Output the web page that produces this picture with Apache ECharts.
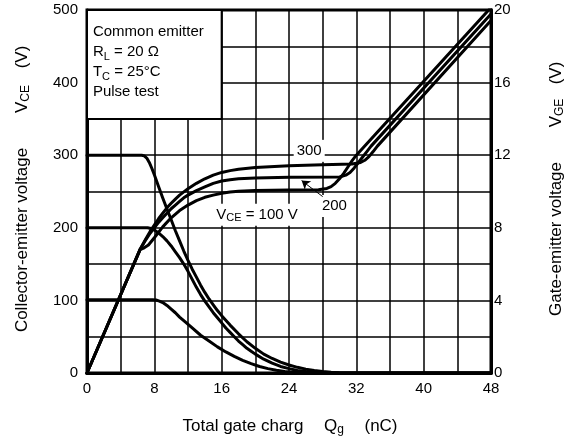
<!DOCTYPE html>
<html><head><meta charset="utf-8">
<script src="https://cdn.jsdelivr.net/npm/echarts@6/dist/echarts.min.js"></script>
<style>html,body{margin:0;padding:0;background:#fff}#c{width:572px;height:441px}</style>
</head><body><div id="c"></div>
<script>
// ---- data ----
const xTicks = [0, 8, 16, 24, 32, 40, 48];
const vceTicks = [0, 100, 200, 300, 400, 500];
const vgeTicks = [0, 4, 8, 12, 16, 20];

// Collector-emitter voltage (left axis, V)
const vce300 = [[0,300],[6.5,300],[6.8,299],[7.1,296],[7.4,290],[7.7,282],[8,273],[8.5,257],[9,241],[9.5,226],[10,211],[10.5,196],[11,182],[11.5,168],[12,155],[12.5,143],[13,132],[13.5,121],[14,111],[14.5,102],[15,94],[15.5,86],[16,79],[17,66],[18,54],[19,43],[20,34],[21,26],[22,20],[23,15],[24,11],[25,7.8],[26,5.3],[27,3.4],[28,2],[29,1],[30,0.4],[31,0.1],[32,0],[48,0]];
const vce200 = [[0,200],[7.2,200],[7.6,199],[8,197],[8.5,193],[9,188],[9.5,182],[10,175],[10.5,167],[11,159],[11.5,150],[12,140],[12.5,129],[13,118],[13.5,108],[14,99],[14.5,91],[15,83],[15.5,76],[16,69],[16.5,62],[17,56],[17.5,50],[18,44],[18.5,39],[19,34],[19.5,30],[20,26],[21,19],[22,13.5],[23,9],[24,6],[25,3.5],[26,2],[27,1],[28,0.3],[29,0],[48,0]];
const vce100 = [[0,101],[7.8,101],[8.2,100.5],[8.6,99],[9,97],[9.5,93],[10,88],[10.5,83],[11,77],[11.6,71],[12.5,62],[13.5,52],[14.5,44],[15.5,36],[16.5,29],[17.5,23],[18.5,17.5],[19.5,13],[20.5,9],[21.5,6],[22.5,3.8],[23.5,2],[24.5,1],[25.5,0.3],[26.5,0],[48,0]];

// Gate-emitter voltage (right axis, V)
const vge300 = [[0,0],[6.3,6.8],[7,7.4],[7.5,7.8],[8,8.15],[8.5,8.5],[9,8.8],[9.5,9.1],[10,9.35],[10.5,9.58],[11,9.8],[11.5,9.98],[12,10.15],[13,10.45],[14,10.7],[15,10.9],[16,11.05],[17,11.15],[18,11.22],[20,11.32],[24,11.42],[28,11.48],[31.5,11.52],[32.5,11.6],[33,11.72],[33.5,11.92],[34,12.2],[34.5,12.5],[48,19.42]];
const vge200 = [[0,0],[6.3,6.8],[7,7.35],[7.5,7.7],[8,8.0],[8.5,8.3],[9,8.55],[9.5,8.8],[10,9.05],[10.5,9.25],[11,9.45],[11.5,9.65],[12,9.8],[13,10.05],[14,10.25],[15,10.45],[16,10.58],[17,10.65],[18,10.7],[20,10.75],[24,10.78],[30,10.8],[30.75,10.9],[31.25,11.05],[31.75,11.3],[32.25,11.6],[32.75,11.9],[33.25,12.2],[33.75,12.5],[48,19.78]];
const vge100 = [[0,0],[6.3,6.8],[6.8,6.9],[7.3,7.05],[8,7.45],[9,8.05],[10,8.55],[11,8.95],[12,9.25],[13,9.5],[14,9.68],[15,9.8],[16,9.9],[17,9.97],[18,10.02],[20,10.06],[24,10.08],[27.5,10.1],[28.5,10.17],[29,10.27],[29.5,10.45],[30,10.7],[30.5,11.0],[31,11.35],[31.5,11.7],[32,12.0],[48,20.14]];

// annotations (data coordinates)
const label300 = [26.4, 306];
const label200 = [29.4, 230];
const label100 = [20.2, 218];
const arrow200 = [[28.0, 243], [25.5, 265]];
const infoBox = [[0, 350], [16, 500]];
const infoPos = [0.7, 428];

const FONT = "'Liberation Sans', Arial, sans-serif";
const chart = echarts.init(document.getElementById('c'), null, {renderer: 'canvas'});

const curve = (data, yi) => ({
  type: 'line', data, yAxisIndex: yi, showSymbol: false, symbol: 'none',
  smooth: false, silent: true,
  lineStyle: {color: '#000', width: 3, join: 'round', cap: 'round'}, z: 3
});
const richM = {fontSize: 15, fontFamily: FONT, color: '#000', lineHeight: 18, textBorderWidth: 0, opacity: 1};
const richS = {fontSize: 11, fontFamily: FONT, color: '#000', lineHeight: 12, verticalAlign: 'bottom', textBorderWidth: 0, opacity: 1};
const lbl = (pos, fmt) => ({
  type: 'scatter', data: [pos], symbolSize: 0, silent: true, z: 2,
  itemStyle: {opacity: 1, color: '#000'},
  label: {show: true, position: 'inside', formatter: fmt, color: '#000', fontFamily: FONT, opacity: 1,
    textBorderWidth: 0, textBorderColor: 'transparent', textShadowBlur: 0,
    backgroundColor: '#fff', padding: [2, 3, 2, 3],
    rich: {m: richM, s: richS}}
});

const split = {show: true, lineStyle: {color: '#000', width: 1.5}};
const T = 17;
const TY = 426;

chart.setOption({
  animation: false,
  backgroundColor: '#fff',
  grid: {left: 87, top: 10, width: 404, height: 363, show: true, borderColor: '#000', borderWidth: 3,
         backgroundColor: 'transparent', containLabel: false, outerBoundsMode: 'none'},
  xAxis: {type: 'value', min: xTicks[0], max: xTicks[xTicks.length - 1], interval: 8,
    axisLine: {show: true, lineStyle: {color: '#000', width: 3}}, axisTick: {show: false},
    axisLabel: {color: '#000', fontSize: 15, fontFamily: FONT, margin: 8,
      formatter: v => xTicks.includes(v) ? String(v) : ''},
    splitLine: split, minorTick: {show: false, splitNumber: 2}, minorSplitLine: split},
  yAxis: [
    {type: 'value', min: vceTicks[0], max: vceTicks[vceTicks.length - 1], interval: 100,
      axisLine: {show: true, lineStyle: {color: '#000', width: 3}}, axisTick: {show: false},
      axisLabel: {color: '#000', fontSize: 15, fontFamily: FONT, margin: 9,
        formatter: v => vceTicks.includes(v) ? String(v) : ''},
      splitLine: split, minorTick: {show: false, splitNumber: 2}, minorSplitLine: split},
    {type: 'value', position: 'right', min: vgeTicks[0], max: vgeTicks[vgeTicks.length - 1], interval: 4,
      axisLine: {show: true, lineStyle: {color: '#000', width: 3}}, axisTick: {show: false},
      axisLabel: {color: '#000', fontSize: 15, fontFamily: FONT, margin: 3,
        formatter: v => vgeTicks.includes(v) ? String(v) : ''},
      splitLine: {show: false}}
  ],
  graphic: [
    {type: 'text', x: 22, y: 240, rotation: Math.PI / 2,
      style: {text: 'Collector-emitter voltage', font: T + 'px ' + FONT, fill: '#000', align: 'center', verticalAlign: 'middle'}},
    {type: 'text', x: 22, y: 99, rotation: Math.PI / 2,
      style: {text: '{m|V}{s|CE}', fill: '#000', align: 'center', verticalAlign: 'middle',
        rich: {m: {fontSize: T, fontFamily: FONT, lineHeight: 20}, s: {fontSize: 12, fontFamily: FONT, lineHeight: 13, verticalAlign: 'bottom'}}}},
    {type: 'text', x: 22, y: 57, rotation: Math.PI / 2,
      style: {text: '(V)', font: T + 'px ' + FONT, fill: '#000', align: 'center', verticalAlign: 'middle'}},
    {type: 'text', x: 556, y: 239, rotation: Math.PI / 2,
      style: {text: 'Gate-emitter voltage', font: T + 'px ' + FONT, fill: '#000', align: 'center', verticalAlign: 'middle'}},
    {type: 'text', x: 556, y: 113, rotation: Math.PI / 2,
      style: {text: '{m|V}{s|GE}', fill: '#000', align: 'center', verticalAlign: 'middle',
        rich: {m: {fontSize: T, fontFamily: FONT, lineHeight: 20}, s: {fontSize: 12, fontFamily: FONT, lineHeight: 13, verticalAlign: 'bottom'}}}},
    {type: 'text', x: 556, y: 73, rotation: Math.PI / 2,
      style: {text: '(V)', font: T + 'px ' + FONT, fill: '#000', align: 'center', verticalAlign: 'middle'}},
    {type: 'text', x: 243, y: TY,
      style: {text: 'Total gate charg', font: T + 'px ' + FONT, fill: '#000', align: 'center', verticalAlign: 'middle'}},
    {type: 'text', x: 334, y: TY,
      style: {text: '{m|Q}{s|g}', fill: '#000', align: 'center', verticalAlign: 'middle',
        rich: {m: {fontSize: T, fontFamily: FONT, lineHeight: 20}, s: {fontSize: 12, fontFamily: FONT, lineHeight: 13, verticalAlign: 'bottom'}}}},
    {type: 'text', x: 381, y: TY,
      style: {text: '(nC)', font: T + 'px ' + FONT, fill: '#000', align: 'center', verticalAlign: 'middle'}}
  ],
  series: [
    {type: 'scatter', data: [infoPos], symbolSize: 0, silent: true, z: 2,
      itemStyle: {opacity: 1, color: '#000'},
      label: {show: true, position: 'right', distance: 0, align: 'left', color: '#000', opacity: 1,
        textBorderWidth: 0, textBorderColor: 'transparent',
        formatter: '{m|Common emitter}\n{m|R}{s|L}{m| = 20 Ω}\n{m|T}{s|C}{m| = 25°C}\n{m|Pulse test}',
        rich: {m: Object.assign({}, richM, {lineHeight: 20}), s: Object.assign({}, richS, {lineHeight: 14})}},
      markArea: {silent: true, itemStyle: {color: '#fff', borderColor: '#000', borderWidth: 2, opacity: 1},
        data: [[{coord: infoBox[0]}, {coord: infoBox[1]}]]},
      markLine: {silent: true, symbol: ['none', 'arrow'], symbolSize: 8, label: {show: false},
        lineStyle: {color: '#000', width: 1, type: 'solid', opacity: 1},
        data: [[{coord: arrow200[0]}, {coord: arrow200[1]}]]}},
    lbl(label300, '{m|300}'),
    lbl(label200, '{m|200}'),
    lbl(label100, '{m|V}{s|CE}{m| = 100 V}'),
    curve(vce300, 0), curve(vce200, 0), curve(vce100, 0),
    curve(vge300, 1), curve(vge200, 1), curve(vge100, 1)
  ]
});
</script></body></html>
